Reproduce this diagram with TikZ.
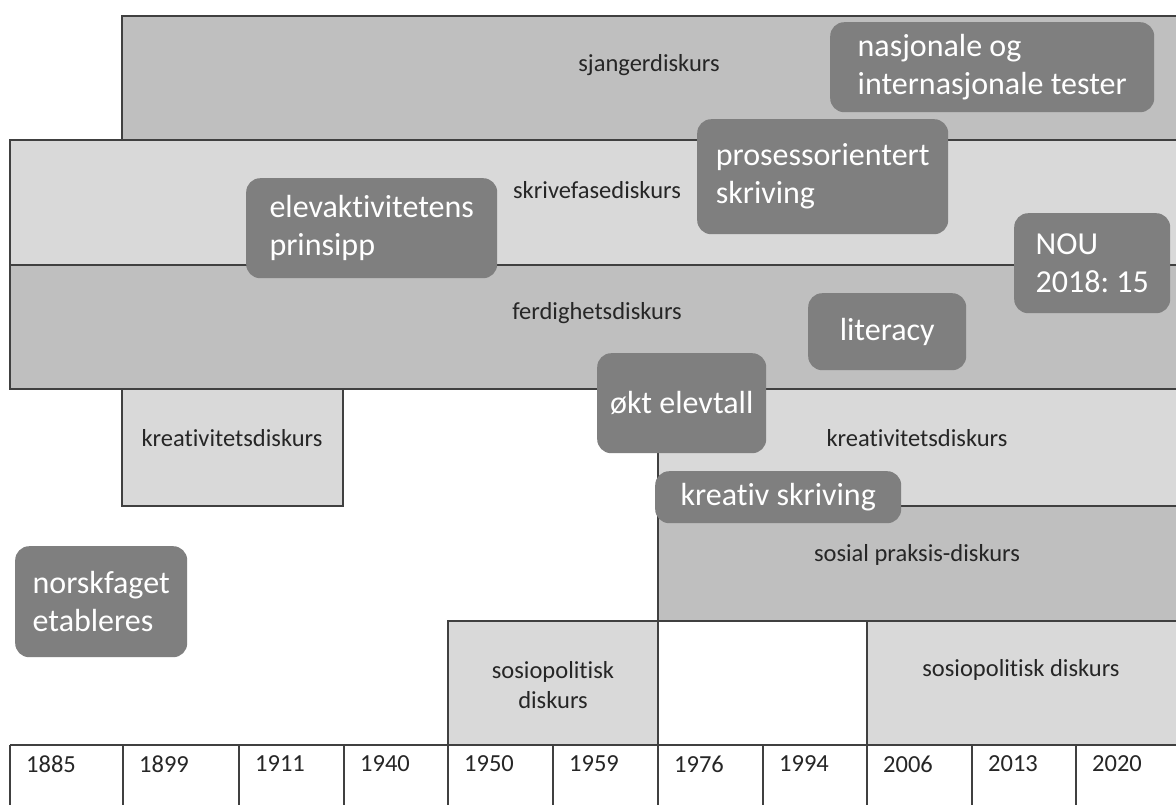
\documentclass[tikz,border=0pt]{standalone}
\usepackage{fontspec}
\setmainfont{Carlito}[Ligatures = {NoCommon}]
\frenchspacing
\definecolor{bandmid}{HTML}{BFBFBF}
\definecolor{bandlight}{HTML}{D9D9D9}
\definecolor{evtfill}{HTML}{7F7F7F}
\definecolor{edge}{HTML}{404040}
\definecolor{labeltext}{HTML}{262626}

\begin{document}
\begin{tikzpicture}[x = 1pt, y = -1pt,
    band/.style = {draw = edge, line width = 1.3pt},
    disk/.style = {text = labeltext, font = \fontsize{24.5}{30}\selectfont, align = center, inner sep = 0pt},
    evt/.style = {fill = evtfill, rounded corners = 14pt, text = white, font = \fontsize{32}{38}\selectfont,
                  align = left, inner sep = 0pt, anchor = north west},
    year/.style = {text = labeltext, font = \fontsize{24.5}{30}\selectfont, anchor = west, inner sep = 0pt}]
    \useasboundingbox (0,0) rectangle (1176,804);
    \fill[white] (0,0) rectangle (1176,804);
    \clip (0,0) rectangle (1176,804);

    \draw[band, fill = bandmid] (122,16) rectangle (1190,140);
    \draw[band, fill = bandlight] (10,140) rectangle (1190,265);
    \draw[band, fill = bandmid] (10,265) rectangle (1190,389);
    \draw[band, fill = bandlight] (122,389) rectangle (343,506);
    \draw[band, fill = bandlight] (658,389) rectangle (1190,506);
    \draw[band, fill = bandmid] (658,506) rectangle (1190,621);
    \draw[band, fill = bandlight] (448,621) rectangle (658,745);
    \draw[band] (658,621) rectangle (867,745);
    \draw[band, fill = bandlight] (867,621) rectangle (1190,745);
    \draw[band] (10,745) -- (1190,745);

    \node[disk] (sjanger) at (649,65) {sjangerdiskurs};
    \node[disk] (skrivefase) at (597,190) {skrivefasediskurs};
    \node[disk] (ferdighet) at (597,313) {ferdighetsdiskurs};
    \node[disk] (kreativA) at (232,438) {kreativitetsdiskurs};
    \node[disk] (kreativB) at (917,438) {kreativitetsdiskurs};
    \node[disk] (sosial) at (917,555) {sosial praksis-diskurs};
    \node[disk] (sosioA) at (553,685) {sosiopolitisk\\diskurs};
    \node[disk] (sosioB) at (1021,670) {sosiopolitisk diskurs};

    \foreach \yr/\xl in {1885/10, 1899/123, 1911/239, 1940/344, 1950/448, 1959/553,
                         1976/658, 1994/763, 2006/867, 2013/972, 2020/1076}
    {
        \draw[band] (\xl,745) -- (\xl,810);
        \node[year] (yr\yr) at (\xl+16,764) {\yr};
    }

    \node[evt, minimum width = 324pt, minimum height = 90pt] (nasjonale) at (830,22) {nasjonale og\\internasjonale tester};
    \node[evt, minimum width = 251pt, minimum height = 115pt] (prosess) at (697,119) {prosessorientert\\skriving};
    \node[evt, minimum width = 251pt, minimum height = 100pt] (elevakt) at (246,178) {elevaktivitetens\\prinsipp};
    \node[evt, minimum width = 156pt, minimum height = 100pt] (nou) at (1014,213) {NOU\\2018: 15};
    \node[evt, minimum width = 158pt, minimum height = 77pt] (literacy) at (808,293) {literacy};
    \node[evt, minimum width = 169pt, minimum height = 100pt] (elevtall) at (597,353) {økt elevtall};
    \node[evt, minimum width = 246pt, minimum height = 52pt] (kreativskr) at (655,471) {kreativ skriving};
    \node[evt, minimum width = 172pt, minimum height = 111pt] (norskfag) at (15,546) {norskfaget\\etableres};
\end{tikzpicture}
\end{document}
